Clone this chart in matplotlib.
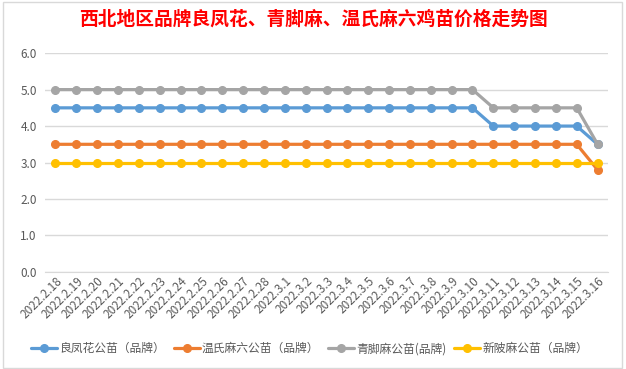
import matplotlib.pyplot as plt
from matplotlib.patches import Rectangle

plt.rcParams['font.family'] = ['Noto Sans CJK SC', 'DejaVu Sans']

# ==============================
# DATA
# ==============================
dates = ["2022.2.%d" % d for d in range(18, 29)] + ["2022.3.%d" % d for d in range(1, 17)]

liangfenghua = [4.5] * 21 + [4.0] * 5 + [3.5]
wenshi_maliu = [3.5] * 26 + [2.8]
qingjiaoma = [5.0] * 21 + [4.5] * 5 + [3.5]
xinbeima = [3.0] * 27

series = [
    ("良凤花公苗（品牌）", liangfenghua, "#5B9BD5"),
    ("温氏麻六公苗（品牌）", wenshi_maliu, "#ED7D31"),
    ("青脚麻公苗(品牌)", qingjiaoma, "#A5A5A5"),
    ("新陂麻公苗（品牌）", xinbeima, "#FFC000"),
]

# ==============================
# PLOT
# ==============================
fig = plt.figure(figsize=(6.26, 3.69), dpi=100)
fig.patch.set_facecolor("white")
fig.patches.append(Rectangle((0.004, 0.004), 0.99, 0.99, transform=fig.transFigure,
                             fill=False, edgecolor="#D9D9D9", linewidth=1))

ax = fig.add_axes([0.0719, 0.263, 0.8994, 0.593])
x = list(range(len(dates)))

handles = []
for name, vals, color in series:
    h, = ax.plot(x, vals, color=color, linewidth=2.3, marker="o",
                 markersize=5.5, label=name, solid_capstyle="round")
    handles.append(h)

ax.set_xlim(-0.5, len(dates) - 0.5)
ax.set_ylim(0, 6)
ax.set_yticks([0, 1, 2, 3, 4, 5, 6])
ax.set_yticklabels(["%.1f" % v for v in [0, 1, 2, 3, 4, 5, 6]])
ax.grid(axis="y", color="#D9D9D9", linewidth=1)
ax.set_axisbelow(True)
for s in ["top", "right", "left"]:
    ax.spines[s].set_visible(False)
ax.spines["bottom"].set_color("#D9D9D9")
ax.tick_params(axis="both", length=0, colors="#595959", labelsize=8.5)
ax.tick_params(axis="y", pad=6)

ax.set_xticks(x)
ax.set_xticklabels(dates, rotation=45, ha="right", va="top", rotation_mode="anchor",
                   fontsize=8.5, color="#595959")
ax.tick_params(axis="x", pad=2)

fig.text(0.5, 0.947, "西北地区品牌良凤花、青脚麻、温氏麻六鸡苗价格走势图",
         ha="center", va="center", color="red", fontsize=13.5, fontweight="bold")

fig.legend(handles=handles, loc="center", bbox_to_anchor=(0.495, 0.055), ncol=4,
           frameon=False, fontsize=8.5, handlelength=2.2, columnspacing=0.7,
           handletextpad=0.2, labelcolor="#595959")

fig.savefig("out.png", dpi=100)
